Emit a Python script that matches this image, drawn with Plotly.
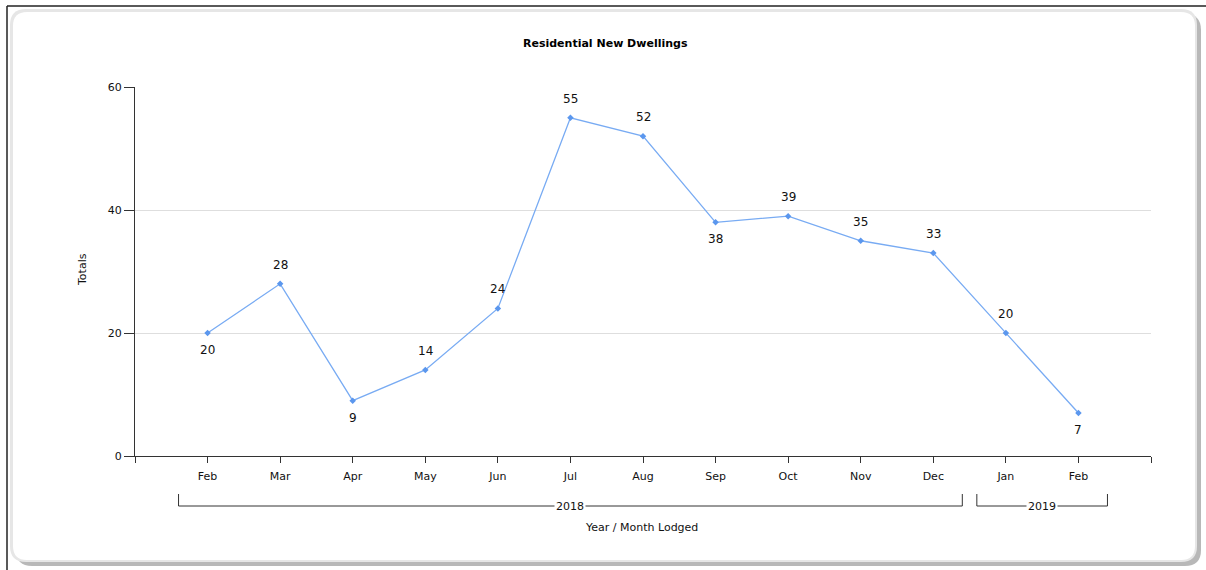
import plotly.graph_objects as go

months = ["Feb", "Mar", "Apr", "May", "Jun", "Jul", "Aug", "Sep", "Oct", "Nov", "Dec", "Jan", "Feb"]
years = ["2018", "2019"]
year_spans = [(0, 10), (11, 12)]
totals = [20, 28, 9, 14, 24, 55, 52, 38, 39, 35, 33, 20, 7]
label_above = [False, True, False, True, True, True, True, False, True, True, True, True, False]

W, H = 1206, 570
L, R, T, B = 135, 55, 87, 114
PW, PH = W - L - R, H - T - B

def px(x):
    return (x - L) / PW

def py(y):
    return (H - B - y) / PH

FONT = "Verdana, DejaVu Sans, sans-serif"
xs = list(range(len(months)))

fig = go.Figure()
fig.add_trace(go.Scatter(
    x=xs, y=totals, mode="lines+markers",
    line=dict(color="#78abf3", width=1.3),
    marker=dict(symbol="diamond", size=5, color="#5b97ee"),
    cliponaxis=False, showlegend=False, hoverinfo="x+y",
))

shapes = []
# outer black frame lines
shapes.append(dict(type="line", xref="paper", yref="paper", x0=px(7), x1=px(1206), y0=py(6), y1=py(6),
                   line=dict(color="#222", width=1.5), layer="below"))
shapes.append(dict(type="line", xref="paper", yref="paper", x0=px(7), x1=px(7), y0=py(6), y1=py(570),
                   line=dict(color="#222", width=1.5), layer="below"))

def rounded(x0, y0, x1, y1, r):
    return (f"M {px(x0+r)},{py(y0)} L {px(x1-r)},{py(y0)} Q {px(x1)},{py(y0)} {px(x1)},{py(y0+r)} "
            f"L {px(x1)},{py(y1-r)} Q {px(x1)},{py(y1)} {px(x1-r)},{py(y1)} "
            f"L {px(x0+r)},{py(y1)} Q {px(x0)},{py(y1)} {px(x0)},{py(y1-r)} "
            f"L {px(x0)},{py(y0+r)} Q {px(x0)},{py(y0)} {px(x0+r)},{py(y0)} Z")

# shadow + card
shapes.append(dict(type="path", xref="paper", yref="paper", path=rounded(16, 14, 1201, 566, 16),
                   fillcolor="#b8b8b8", line=dict(width=0), layer="below"))
shapes.append(dict(type="path", xref="paper", yref="paper", path=rounded(10, 9, 1197, 562, 16),
                   fillcolor="#e6e6e6", line=dict(width=0), layer="below"))
shapes.append(dict(type="path", xref="paper", yref="paper", path=rounded(13, 12, 1195, 560, 14),
                   fillcolor="white", line=dict(width=0), layer="below"))

annotations = []
# data labels
for xi, v, up in zip(xs, totals, label_above):
    annotations.append(dict(x=xi, y=v, xref="x", yref="y", text=str(v), showarrow=False,
                            yshift=19 if up else -17, xanchor="center", yanchor="middle",
                            font=dict(family=FONT, size=12, color="#111")))

# year brackets
for yr, (a, b) in zip(years, year_spans):
    x0, x1 = a - 0.4, b + 0.4
    yl, yt = py(506), py(494)
    shapes.append(dict(type="path", xref="x", yref="paper",
                       path=f"M {x0},{yt} L {x0},{yl} L {x1},{yl} L {x1},{yt}",
                       line=dict(color="#333", width=1)))
    annotations.append(dict(x=(x0 + x1) / 2, y=yl, xref="x", yref="paper", text=yr, showarrow=False,
                            font=dict(family=FONT, size=11, color="#111"), bgcolor="white",
                            borderpad=1, xanchor="center", yanchor="middle"))

annotations.append(dict(x=px(605), y=py(44), xref="paper", yref="paper",
                        text="<b>Residential New Dwellings</b>", showarrow=False,
                        font=dict(family=FONT, size=11, color="#000"), xanchor="center", yanchor="middle"))
annotations.append(dict(x=px(82), y=py(270), xref="paper", yref="paper", text="Totals", textangle=-90,
                        showarrow=False, font=dict(family=FONT, size=11, color="#111"),
                        xanchor="center", yanchor="middle"))
annotations.append(dict(x=px(641), y=py(527), xref="paper", yref="paper", text="Year / Month Lodged",
                        showarrow=False, font=dict(family=FONT, size=11, color="#111"),
                        xanchor="center", yanchor="middle"))

fig.update_layout(
    width=W, height=H, margin=dict(l=L, r=R, t=T, b=B),
    paper_bgcolor="white", plot_bgcolor="rgba(0,0,0,0)",
    shapes=shapes, annotations=annotations,
    xaxis=dict(range=[-1, 13], tickvals=[-1] + xs + [13], ticktext=[""] + months + [""],
               ticks="outside", ticklen=6, tickcolor="#333", showline=True, linecolor="#333",
               showgrid=False, zeroline=False, fixedrange=True, ticklabelstandoff=4,
               tickfont=dict(family=FONT, size=11, color="#111")),
    yaxis=dict(range=[0, 60], tickvals=[0, 20, 40, 60], ticks="outside", ticklen=10,
               tickcolor="#333", showline=True, linecolor="#333", showgrid=True,
               gridcolor="#dedede", zeroline=False, fixedrange=True,
               tickfont=dict(family=FONT, size=11, color="#111")),
)

fig.write_html("out.html")
